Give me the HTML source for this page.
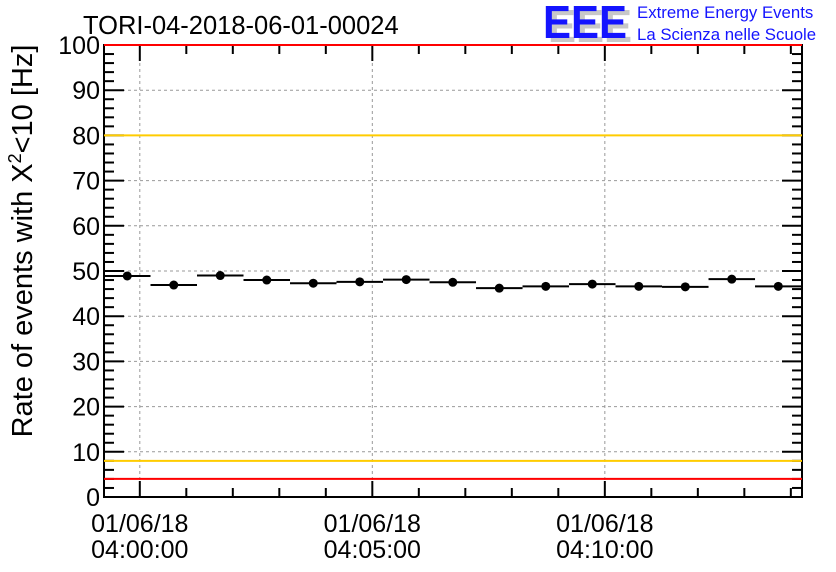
<!DOCTYPE html>
<html><head><meta charset="utf-8"><style>
html,body{margin:0;padding:0;background:#fff;}
svg{display:block;font-family:"Liberation Sans",Arial,sans-serif;}
</style></head><body>
<svg id="chart" width="836" height="572" viewBox="0 0 836 572" xmlns="http://www.w3.org/2000/svg">
<rect width="836" height="572" fill="#fff"/>
<text x="83" y="34" font-size="25.5" fill="#000">TORI-04-2018-06-01-00024</text>
<g>
<text x="548" y="42" font-size="46" font-weight="bold" fill="#c8c8c8" textLength="84" lengthAdjust="spacingAndGlyphs">EEE</text>
<text x="543" y="38" font-size="46" font-weight="bold" fill="#1414ff" textLength="84" lengthAdjust="spacingAndGlyphs">EEE</text>
<text x="637" y="18" font-size="16.8" fill="#1414ff">Extreme Energy Events</text>
<text x="637" y="40" font-size="16.8" fill="#1414ff">La Scienza nelle Scuole</text>
</g>
<text transform="translate(32,241) rotate(-90)" text-anchor="middle" font-size="29" fill="#000">Rate of events with X<tspan dy="-11" font-size="18">2</tspan><tspan dy="11">&lt;10 [Hz]</tspan></text>
<g id="grid"></g><g id="axes"></g><g id="marks"></g>
</svg>
<script>
const values = [48.9, 46.9, 49.0, 48.0, 47.3, 47.6, 48.1, 47.5, 46.2, 46.6, 47.1, 46.6, 46.5, 48.2, 46.6];
const binStart = -0.77; // minutes relative to 04:00:00
const binWidth = 1;
const yTicks = [0,10,20,30,40,50,60,70,80,90,100];
const xTickMinutes = [0,5,10];
const xTickDates = ["01/06/18","01/06/18","01/06/18"];
const xTickTimes = ["04:00:00","04:05:00","04:10:00"];
const refLines = [{v:100,c:"#ff0000"},{v:80,c:"#ffcc00"},{v:8,c:"#ffcc00"},{v:4,c:"#ff0000"}];

const L=104,R=802,T=45,B=497;
const xMin=-0.77,xMax=14.24,yMin=0,yMax=100;
const X=m=>L+(m-xMin)/(xMax-xMin)*(R-L);
const Y=v=>B-(v-yMin)/(yMax-yMin)*(B-T);
const NS="http://www.w3.org/2000/svg";
function mk(tag,attrs,parent){const e=document.createElementNS(NS,tag);for(const k in attrs)e.setAttribute(k,attrs[k]);document.getElementById(parent).appendChild(e);return e;}

yTicks.forEach(v=>{if(v>0&&v<100){const e=mk('line',{x1:L,x2:R,y1:Y(v),y2:Y(v),stroke:'#999','stroke-dasharray':'3,3','stroke-width':1},'grid');

}});
xTickMinutes.forEach(m=>{const e=mk('line',{x1:X(m),x2:X(m),y1:T,y2:B,stroke:'#999','stroke-dasharray':'3,3','stroke-width':1},'grid');

});

const fr=mk('rect',{x:L,y:T,width:R-L,height:B-T,fill:'none',stroke:'#000','stroke-width':2},'axes');



for(let v=0;v<=100;v+=2){const major=v%10===0;const len=major?20:10;
 mk('line',{x1:L,x2:L+len,y1:Y(v),y2:Y(v),stroke:'#000','stroke-width':2},'axes');
 mk('line',{x1:R,x2:R-len,y1:Y(v),y2:Y(v),stroke:'#000','stroke-width':2},'axes');}
yTicks.forEach(v=>{const t=mk('text',{x:L-4,y:Y(v)+9,'text-anchor':'end','font-size':25,fill:'#000'},'axes');t.textContent=v;

});

for(let m=0;m<=14;m++){const major=m%5===0;const len=major?16:9;
 mk('line',{x1:X(m),x2:X(m),y1:B,y2:B-len,stroke:'#000','stroke-width':2},'axes');
 mk('line',{x1:X(m),x2:X(m),y1:T,y2:T+len,stroke:'#000','stroke-width':2},'axes');}
xTickMinutes.forEach((m,i)=>{
 const a=mk('text',{x:X(m),y:532,'text-anchor':'middle','font-size':25,fill:'#000'},'axes');a.textContent=xTickDates[i];
 
 
 const b=mk('text',{x:X(m),y:558,'text-anchor':'middle','font-size':25,fill:'#000'},'axes');b.textContent=xTickTimes[i];
 
 });

refLines.forEach(r=>{const e=mk('line',{x1:L,x2:R,y1:Y(r.v),y2:Y(r.v),stroke:r.c,'stroke-width':2},'marks');

});

values.forEach((v,i)=>{const x0=X(binStart+i*binWidth),x1=X(binStart+(i+1)*binWidth),xc=(x0+x1)/2;
 const l=mk('line',{x1:x0,x2:x1,y1:Y(v),y2:Y(v),stroke:'#000','stroke-width':2},'marks');
 
 
 const c=mk('circle',{cx:xc,cy:Y(v),r:4.5,fill:'#000'},'marks');
 
 });
</script>
</body></html>
